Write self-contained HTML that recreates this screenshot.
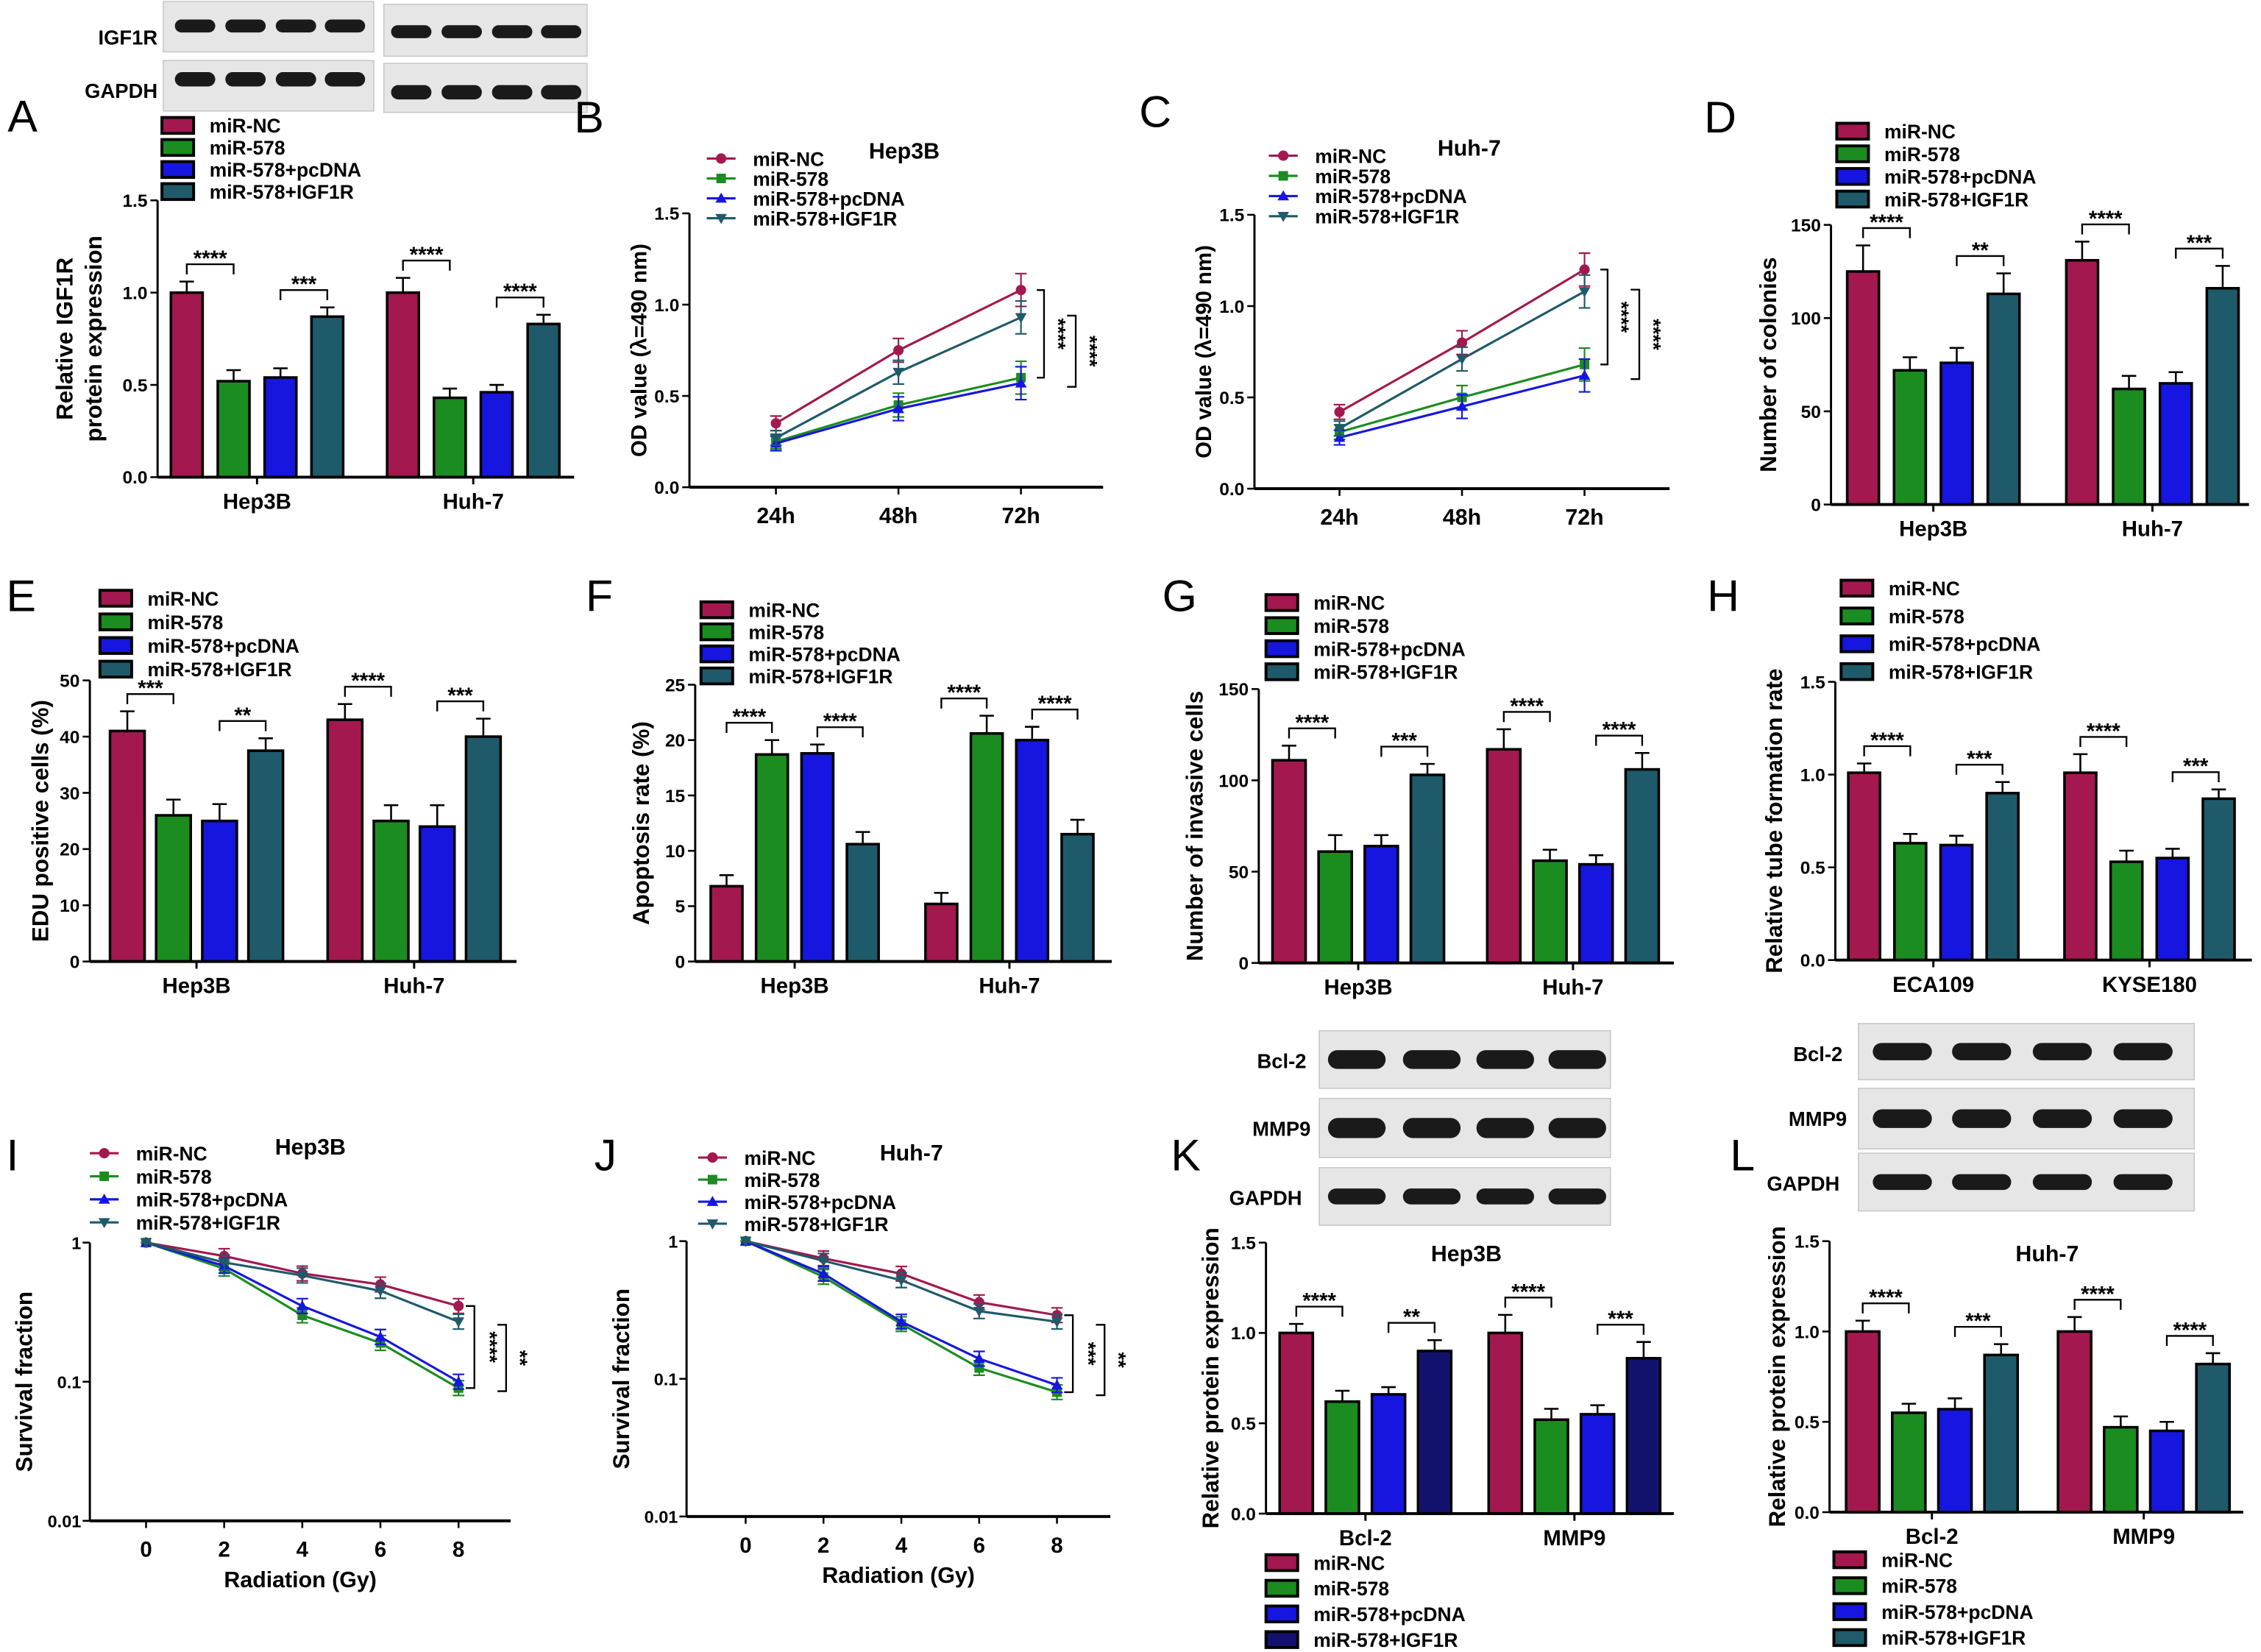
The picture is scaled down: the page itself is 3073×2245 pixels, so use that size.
<!DOCTYPE html>
<html><head><meta charset="utf-8"><style>
html,body{margin:0;padding:0;background:#fff}
svg{display:block;font-family:"Liberation Sans",Arial,sans-serif;font-weight:bold}
</style></head><body>
<svg id="fig" xmlns="http://www.w3.org/2000/svg" width="3073" height="2245" viewBox="0 0 1568 1146"></svg>
<script>
const series = ["miR-NC","miR-578","miR-578+pcDNA","miR-578+IGF1R"];
const cols = ["#a3184f","#1b8c1f","#1616e0","#1e5a6a"];
const colsK = ["#a3184f","#1b8c1f","#1616e0","#12126e"];
const cellCats = ["Hep3B","Huh-7"];
const tubeCats = ["ECA109","KYSE180"];
const protCats = ["Bcl-2","MMP9"];
const A_vals = [[1.0,0.52,0.54,0.87],[1.0,0.43,0.46,0.83]];
const A_err = [[0.06,0.06,0.05,0.05],[0.08,0.05,0.04,0.05]];
const D_vals = [[125,72,76,113],[131,62,65,116]];
const D_err = [[14,7,8,11],[10,7,6,12]];
const E_vals = [[41,26,25,37.5],[43,25,24,40]];
const E_err = [[3.5,2.8,3,2.2],[2.8,2.8,3.8,3.2]];
const F_vals = [[6.8,18.7,18.8,10.6],[5.2,20.6,20.0,11.5]];
const F_err = [[1,1.3,0.8,1.1],[1,1.6,1.2,1.3]];
const G_vals = [[111,61,64,103],[117,56,54,106]];
const G_err = [[8,9,6,6],[11,6,5,9]];
const H_vals = [[1.01,0.63,0.62,0.90],[1.01,0.53,0.55,0.87]];
const H_err = [[0.05,0.05,0.05,0.06],[0.10,0.06,0.05,0.05]];
const K_vals = [[1.0,0.62,0.66,0.90],[1.0,0.52,0.55,0.86]];
const K_err = [[0.05,0.06,0.04,0.06],[0.1,0.06,0.05,0.09]];
const L_vals = [[1.0,0.55,0.57,0.87],[1.0,0.47,0.45,0.82]];
const L_err = [[0.06,0.05,0.06,0.06],[0.08,0.06,0.05,0.06]];
const time_labels = ["24h","48h","72h"];
const B_vals = [[0.35,0.75,1.08],[0.25,0.45,0.60],[0.24,0.43,0.57],[0.27,0.63,0.93]];
const C_vals = [[0.42,0.80,1.20],[0.31,0.50,0.68],[0.28,0.45,0.62],[0.33,0.71,1.08]];
const dose = [0,2,4,6,8];
const I_vals = [[1,0.8,0.6,0.5,0.35],[1,0.65,0.3,0.19,0.09],[1,0.68,0.35,0.21,0.1],[1,0.72,0.58,0.45,0.27]];
const J_vals = [[1,0.75,0.58,0.36,0.29],[1,0.55,0.25,0.12,0.08],[1,0.58,0.26,0.14,0.09],[1,0.72,0.52,0.31,0.26]];
const tick15 = ["0.0","0.5","1.0","1.5"];
const tick150 = ["0","50","100","150"];
const tick50 = ["0","10","20","30","40","50"];
const tick25 = ["0","5","10","15","20","25"];
const logTicks = ["0.01","0.1","1"];

const svg=document.getElementById('fig');
const NS="http://www.w3.org/2000/svg";
function el(tag,attrs,parent,text){const e=document.createElementNS(NS,tag);for(const k in attrs)e.setAttribute(k,attrs[k]);if(text!==undefined)e.textContent=text;(parent||svg).appendChild(e);return e;}
function txt(x,y,s,size,parent,anchor,extra){return el('text',Object.assign({x:x,y:y,'font-size':size,'text-anchor':anchor||'middle',fill:'#000'},extra||{}),parent,s);}
function group(name){const g=el('g',{},svg);return g;}
function letter(g,x,y,s){txt(x,y,s,31,g,'start',{'font-weight':'normal'});}

function legend(g,x,y,dy,colors,kind){
  series.forEach((s,i)=>{
    const lg=el('g',{},g);
    
    
    const yy=y+i*dy;
    if(kind==='bar'){el('rect',{x:x+1,y:yy-5.5,width:22,height:11,fill:colors[i],stroke:'#000','stroke-width':2},lg);txt(x+34,yy+5,s,13.5,lg,'start');}
    else{el('line',{x1:x,y1:yy,x2:x+20,y2:yy,stroke:colors[i],'stroke-width':1.6},lg);marker(lg,x+10,yy,i,colors[i]);txt(x+32,yy+5,s,13.5,lg,'start');}
  });
}
function marker(p,x,y,i,c){
  if(i===0)el('circle',{cx:x,cy:y,r:3.6,fill:c},p);
  else if(i===1)el('rect',{x:x-3.3,y:y-3.3,width:6.6,height:6.6,fill:c},p);
  else if(i===2)el('polygon',{points:`${x},${y-4} ${x-4},${y+3} ${x+4},${y+3}`,fill:c},p);
  else el('polygon',{points:`${x},${y+4} ${x-4},${y-3} ${x+4},${y-3}`,fill:c},p);
}
function sig(g,x1,x2,y,s){
  el('path',{d:`M${x1},${y+7}V${y}H${x2}V${y+7}`,fill:'none',stroke:'#000','stroke-width':1.2},g);
  txt((x1+x2)/2,y+1,s,15,g);
}
function barPanel(o){
  const g=group(o.name);
  const yS=v=>o.y0-(v/o.vmax)*(o.y0-o.y1);
  el('line',{x1:o.ax,y1:o.y1,x2:o.ax,y2:o.y0,stroke:'#000','stroke-width':1.5},g);
  o.ticks.forEach((t,i)=>{const v=i*o.vmax/(o.ticks.length-1);const y=yS(v);
    el('line',{x1:o.ax-5,y1:y,x2:o.ax,y2:y,stroke:'#000','stroke-width':1.3},g);
    txt(o.ax-7,y+4.5,t,12.5,g,'end');});
  const tg=el('g',{},g);
  
  
  const cy=(o.y0+o.y1)/2;
  o.ytitle.forEach((l,i)=>{const x=o.tx+i*20;txt(x,cy,l,16,tg,'middle',{transform:`rotate(-90 ${x} ${cy})`});});
  o.cats.forEach((c,gi)=>{
    const cx=o.centers[gi];
    el('line',{x1:cx,y1:o.y0,x2:cx,y2:o.y0+5,stroke:'#000','stroke-width':1.5},g);
    txt(cx,o.y0+22,c,15,g);
    const xs=[];
    o.vals[gi].forEach((v,i)=>{
      const x=cx+(i-1.5)*o.pitch-o.bw/2; xs.push(x+o.bw/2);
      const e=o.err[gi][i];const ye=yS(v+e);
      el('path',{d:`M${x+o.bw/2},${yS(v)}V${ye}M${x+o.bw/2-5},${ye}H${x+o.bw/2+5}`,stroke:'#000','stroke-width':1.3,fill:'none'},g);
      const b=el('rect',{x:x,y:yS(v),width:o.bw,height:o.y0-yS(v),fill:o.colors[i],stroke:'#000','stroke-width':1.8},g);
      
      
    });
    const top1=Math.max(o.vals[gi][0]+o.err[gi][0],o.vals[gi][1]+o.err[gi][1]);
    const top2=Math.max(o.vals[gi][2]+o.err[gi][2],o.vals[gi][3]+o.err[gi][3]);
    sig(g,xs[0],xs[1],yS(top1)-12,o.sig[gi][0]);
    sig(g,xs[2],xs[3],yS(top2)-12,o.sig[gi][1]);
  });
  el('line',{x1:o.ax,y1:o.y0,x2:o.axEnd,y2:o.y0,stroke:'#000','stroke-width':2},g);
  legend(g,o.lx,o.ly,o.ldy,o.colors,'bar');
  if(o.letter)letter(g,o.px,o.py,o.letter);
}
function linePanel(o){
  const g=group(o.name);
  const yS=v=>o.y0-(v/1.5)*(o.y0-o.y1);
  el('line',{x1:o.ax,y1:o.y1,x2:o.ax,y2:o.y0,stroke:'#000','stroke-width':1.5},g);
  el('line',{x1:o.ax,y1:o.y0,x2:o.axEnd,y2:o.y0,stroke:'#000','stroke-width':2},g);
  tick15.forEach((t,i)=>{const y=yS(i*0.5);el('line',{x1:o.ax-5,y1:y,x2:o.ax,y2:y,stroke:'#000','stroke-width':1.3},g);txt(o.ax-7,y+4.5,t,12.5,g,'end');});
  const xS=i=>o.xs0+i*o.dx;
  time_labels.forEach((t,i)=>{el('line',{x1:xS(i),y1:o.y0,x2:xS(i),y2:o.y0+5,stroke:'#000','stroke-width':1.3},g);txt(xS(i),o.y0+25,t,15.5,g);});
  const ty=(o.y0+o.y1)/2;txt(o.tx,ty,'OD value (λ=490 nm)',15,g,'middle',{transform:`rotate(-90 ${o.tx} ${ty})`});
  o.vals.forEach((s,k)=>{
    const p=el('polyline',{points:s.map((v,i)=>xS(i)+','+yS(v)).join(' '),fill:'none',stroke:cols[k],'stroke-width':1.6},g);
    
    
    s.forEach((v,i)=>{const e=0.04+0.025*i;el('path',{d:`M${xS(i)},${yS(v-e)}V${yS(v+e)}M${xS(i)-4},${yS(v+e)}H${xS(i)+4}M${xS(i)-4},${yS(v-e)}H${xS(i)+4}`,stroke:cols[k],'stroke-width':1.1,fill:'none'},g);marker(g,xS(i),yS(v),k,cols[k]);});
  });
  const xe=xS(2)+11;
  const a1=yS(o.vals[0][2]),b1=yS(o.vals[1][2]),a2=yS(o.vals[3][2]+0.01),b2=yS(o.vals[2][2]-0.02);
  el('path',{d:`M${xe},${a1}H${xe+5}V${b1}H${xe}`,fill:'none',stroke:'#000','stroke-width':1.2},g);
  el('path',{d:`M${xe+21},${a2}H${xe+27}V${b2}H${xe+21}`,fill:'none',stroke:'#000','stroke-width':1.2},g);
  txt(xe+10,(a1+b1)/2,'****',14,g,'middle',{transform:`rotate(90 ${xe+10} ${(a1+b1)/2})`});
  txt(xe+32,(a2+b2)/2,'****',14,g,'middle',{transform:`rotate(90 ${xe+32} ${(a2+b2)/2})`});
  txt(o.ttx,o.tty,o.title,15.5,g);
  legend(g,o.lx,o.ly,o.ldy,cols,'line');
  letter(g,o.px,o.py,o.letter);
}
function logPanel(o){
  const g=group(o.name);
  const yS=v=>o.y1+(-Math.log10(v))/2*(o.y0-o.y1);
  el('line',{x1:o.ax,y1:o.y1,x2:o.ax,y2:o.y0,stroke:'#000','stroke-width':1.5},g);
  el('line',{x1:o.ax,y1:o.y0,x2:o.axEnd,y2:o.y0,stroke:'#000','stroke-width':2},g);
  logTicks.forEach((t,i)=>{const y=yS(parseFloat(t));el('line',{x1:o.ax-5,y1:y,x2:o.ax,y2:y,stroke:'#000','stroke-width':1.3},g);txt(o.ax-6,y+4.5,t,12,g,'end');});
  const xS=d=>o.xs0+d*o.dx;
  dose.forEach(d=>{el('line',{x1:xS(d),y1:o.y0,x2:xS(d),y2:o.y0+5,stroke:'#000','stroke-width':1.3},g);txt(xS(d),o.y0+25,String(d),15,g);});
  txt((o.ax+o.axEnd)/2,o.y0+46,'Radiation (Gy)',15.5,g);
  const ty=(o.y0+o.y1)/2;txt(o.tx,ty,'Survival fraction',16,g,'middle',{transform:`rotate(-90 ${o.tx} ${ty})`});
  o.vals.forEach((s,k)=>{
    const p=el('polyline',{points:s.map((v,i)=>xS(dose[i])+','+yS(v)).join(' '),fill:'none',stroke:cols[k],'stroke-width':1.6},g);
    
    
    s.forEach((v,i)=>{if(i>0){const a=yS(v*1.13),b=yS(v/1.13);el('path',{d:`M${xS(dose[i])},${a}V${b}M${xS(dose[i])-4},${a}H${xS(dose[i])+4}M${xS(dose[i])-4},${b}H${xS(dose[i])+4}`,stroke:cols[k],'stroke-width':1.1,fill:'none'},g);}marker(g,xS(dose[i]),yS(v),k,cols[k]);});
  });
  const xe=xS(8)+5;
  const a1=yS(o.vals[0][4]*1.0),b1=yS(o.vals[1][4]),a2=yS(o.vals[3][4]*0.95),b2=yS(o.vals[1][4]*0.95);
  el('path',{d:`M${xe},${a1}H${xe+6}V${b1}H${xe}`,fill:'none',stroke:'#000','stroke-width':1.2},g);
  el('path',{d:`M${xe+22},${a2}H${xe+28}V${b2}H${xe+22}`,fill:'none',stroke:'#000','stroke-width':1.2},g);
  txt(xe+12,(a1+b1)/2,o.s1,14,g,'middle',{transform:`rotate(90 ${xe+12} ${(a1+b1)/2})`});
  txt(xe+33,(a2+b2)/2,'**',14,g,'middle',{transform:`rotate(90 ${xe+33} ${(a2+b2)/2})`});
  txt(o.ttx,o.tty,o.title,15.5,g);
  legend(g,o.lx,o.ly,o.ldy,cols,'line');
  letter(g,o.px,o.py,o.letter);
}
function blot(name,x,y,w,h,bx,bw,bh,by){
  const g=group(name);
  el('rect',{x:x,y:y,width:w,height:h,fill:'#e6e6e6',stroke:'#c8c8c8','stroke-width':0.8},g);
  const cy=by!==undefined?by:y+h/2;
  bx.forEach(b=>{el('rect',{x:b,y:cy-bh/2,width:bw,height:bh,rx:bh/2,fill:'#1a1a1a'},g);});
}
// Top blots (A)
blot('blot-igf1r-left',113,1,146,35,[121,156,191,225],28,9,18);
blot('blot-igf1r-right',266,3,141,36,[271,306,341,375],28,9,22);
blot('blot-gapdh-left',113,42,146,35,[121,156,191,225],28,10,55);
blot('blot-gapdh-right',266,44,141,34,[271,306,341,375],28,10,64);
txt(109,31,'IGF1R',14,svg,'end');txt(109,68,'GAPDH',14,svg,'end');
// K blots
blot('blot-k-bcl2',915,715,202,40,[921,973,1024,1074],40,13);
blot('blot-k-mmp9',915,762,202,41,[921,973,1024,1074],40,14);
blot('blot-k-gapdh',915,810,202,40,[921,973,1024,1074],40,11);
txt(906,741,'Bcl-2',14,svg,'end');txt(909,788,'MMP9',14,svg,'end');txt(903,836,'GAPDH',14,svg,'end');
// L blots
blot('blot-l-bcl2',1289,710,233,39,[1299,1354,1410,1466],41,12);
blot('blot-l-mmp9',1289,755,233,42,[1299,1354,1410,1466],41,13);
blot('blot-l-gapdh',1289,800,233,40,[1299,1354,1410,1466],41,11);
txt(1278,736,'Bcl-2',14,svg,'end');txt(1281,781,'MMP9',14,svg,'end');txt(1276,826,'GAPDH',14,svg,'end');

barPanel({name:'panel-a',letter:'A',px:5,py:91,ax:109,axEnd:398,y0:331,y1:139,vmax:1.5,ticks:tick15,ytitle:['Relative IGF1R','protein expression'],tx:50,cats:cellCats,centers:[178,328],pitch:32.5,bw:22,vals:A_vals,err:A_err,colors:cols,sig:[['****','***'],['****','****']],lx:111,ly:87,ldy:15.3});
linePanel({name:'panel-b',letter:'B',px:398,py:92,ax:478,axEnd:765,y0:338,y1:148,xs0:538,dx:85,vals:B_vals,tx:448,title:'Hep3B',ttx:627,tty:110,lx:490,ly:110,ldy:13.8});
linePanel({name:'panel-c',letter:'C',px:790,py:88,ax:870,axEnd:1158,y0:339,y1:149,xs0:929,dx:85,vals:C_vals,tx:840,title:'Huh-7',ttx:1019,tty:108,lx:880,ly:108,ldy:14});
barPanel({name:'panel-d',letter:'D',px:1182,py:92,ax:1270,axEnd:1560,y0:350,y1:156,vmax:150,ticks:tick150,ytitle:['Number of colonies'],tx:1232,cats:cellCats,centers:[1341,1493],pitch:32.5,bw:22,vals:D_vals,err:D_err,colors:cols,sig:[['****','**'],['****','***']],lx:1273,ly:91,ldy:15.7});
barPanel({name:'panel-e',letter:'E',px:4,py:424,ax:62,axEnd:358,y0:667,y1:472,vmax:50,ticks:tick50,ytitle:['EDU positive cells (%)'],tx:33,cats:cellCats,centers:[136,287],pitch:32,bw:24,vals:E_vals,err:E_err,colors:cols,sig:[['***','**'],['****','***']],lx:68,ly:415,ldy:16.4});
barPanel({name:'panel-f',letter:'F',px:406,py:424,ax:482,axEnd:771,y0:667,y1:475,vmax:25,ticks:tick25,ytitle:['Apoptosis rate (%)'],tx:450,cats:cellCats,centers:[551,700],pitch:31.5,bw:22,vals:F_vals,err:F_err,colors:cols,sig:[['****','****'],['****','****']],lx:485,ly:423,ldy:15.3});
barPanel({name:'panel-g',letter:'G',px:806,py:424,ax:873,axEnd:1161,y0:668,y1:478,vmax:150,ticks:tick150,ytitle:['Number of invasive cells'],tx:834,cats:cellCats,centers:[942,1091],pitch:32,bw:23,vals:G_vals,err:G_err,colors:cols,sig:[['****','***'],['****','****']],lx:877,ly:418,ldy:16});
barPanel({name:'panel-h',letter:'H',px:1184,py:424,ax:1273,axEnd:1562,y0:666,y1:473,vmax:1.5,ticks:tick15,ytitle:['Relative tube formation rate'],tx:1236,cats:tubeCats,centers:[1341,1491],pitch:32,bw:22,vals:H_vals,err:H_err,colors:cols,sig:[['****','***'],['****','***']],lx:1276,ly:408,ldy:19.3});
logPanel({name:'panel-i',letter:'I',px:4,py:812,ax:62,axEnd:354,y0:1055,y1:862,xs0:101,dx:27.1,vals:I_vals,tx:22,s1:'****',title:'Hep3B',ttx:215,tty:801,lx:62,ly:800,ldy:16});
logPanel({name:'panel-j',letter:'J',px:412,py:812,ax:476,axEnd:770,y0:1052,y1:861,xs0:517,dx:27,vals:J_vals,tx:436,s1:'***',title:'Huh-7',ttx:632,tty:805,lx:484,ly:803,ldy:15.3});
barPanel({name:'panel-k',letter:'K',px:812,py:812,ax:878,axEnd:1161,y0:1050,y1:862,vmax:1.5,ticks:tick15,ytitle:['Relative protein expression'],tx:845,cats:protCats,centers:[947,1092],pitch:32,bw:23,vals:K_vals,err:K_err,colors:colsK,sig:[['****','**'],['****','***']],lx:877,ly:1084,ldy:17.8});
barPanel({name:'panel-l',letter:'L',px:1200,py:812,ax:1269,axEnd:1556,y0:1049,y1:861,vmax:1.5,ticks:tick15,ytitle:['Relative protein expression'],tx:1238,cats:protCats,centers:[1340,1487],pitch:32,bw:23,vals:L_vals,err:L_err,colors:cols,sig:[['****','***'],['****','****']],lx:1271,ly:1082,ldy:18});
txt(1017,875,'Hep3B',15.5,svg);txt(1420,875,'Huh-7',15.5,svg);
</script>
</body></html>
